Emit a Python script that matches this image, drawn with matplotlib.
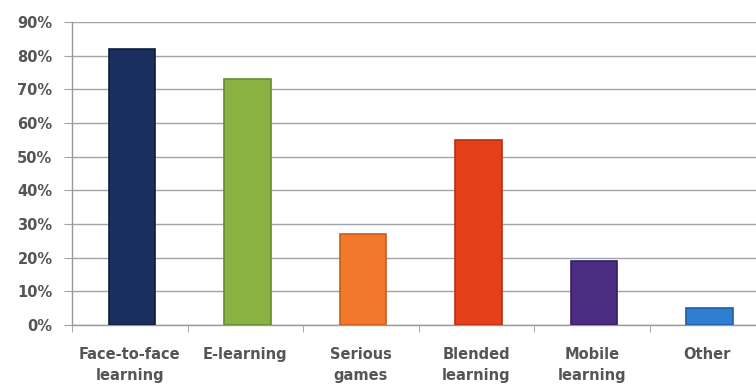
import numpy as np
import matplotlib
matplotlib.use("Agg")
import matplotlib.pyplot as plt
from matplotlib.ticker import PercentFormatter, FixedLocator

categories = ["Face-to-face\nlearning", "E-learning", "Serious\ngames",
              "Blended\nlearning", "Mobile\nlearning", "Other"]
shares = [0.82, 0.73, 0.27, 0.55, 0.19, 0.05]
colors = ["#1b2f5e", "#8ab243", "#f2792b", "#e4401a", "#4a2d83", "#2e7ed2"]
edges = ["#101d3d", "#6a8c2e", "#c85e1c", "#b72f10", "#33205e", "#1d5ea5"]

plt.rcParams.update({"font.family": "DejaVu Sans"})

fig = plt.figure(figsize=(7.56, 3.84), dpi=100)
ax = fig.add_axes([72 / 756, 59 / 384, 6 * 115.5 / 756, 303 / 384])

x = np.arange(len(categories)) + 0.5
ax.bar(x + 0.02, shares, width=0.4, color=colors, edgecolor=edges, linewidth=1.2, zorder=3)

ax.set_xlim(0, len(categories))
ax.set_ylim(0, 0.9)
ax.set_yticks(np.arange(0, 0.91, 0.1))
ax.yaxis.set_major_formatter(PercentFormatter(1.0, decimals=0))
ax.grid(axis="y", color="#a3a3ad", lw=1.0, zorder=0)

# category labels sit a little lower, with loose line spacing
ax.set_xticks(x)
ax.set_xticklabels(categories, fontsize=10.5, fontweight="bold", color="#555555",
                   linespacing=1.5)
ax.tick_params(axis="x", length=0, pad=16)
ax.xaxis.set_minor_locator(FixedLocator(np.arange(0, len(categories) + 1)))
ax.tick_params(axis="x", which="minor", length=5, color="#999999", direction="out")
ax.tick_params(axis="y", length=6, color="#a3a3ad", labelsize=10.5,
               labelcolor="#555555", pad=8)
for lab in ax.get_yticklabels():
    lab.set_fontweight("bold")

for s in ["top", "right"]:
    ax.spines[s].set_visible(False)
for s in ["left", "bottom"]:
    ax.spines[s].set_color("#999999")
    ax.spines[s].set_linewidth(1.0)

fig.savefig("out.png", dpi=100)
